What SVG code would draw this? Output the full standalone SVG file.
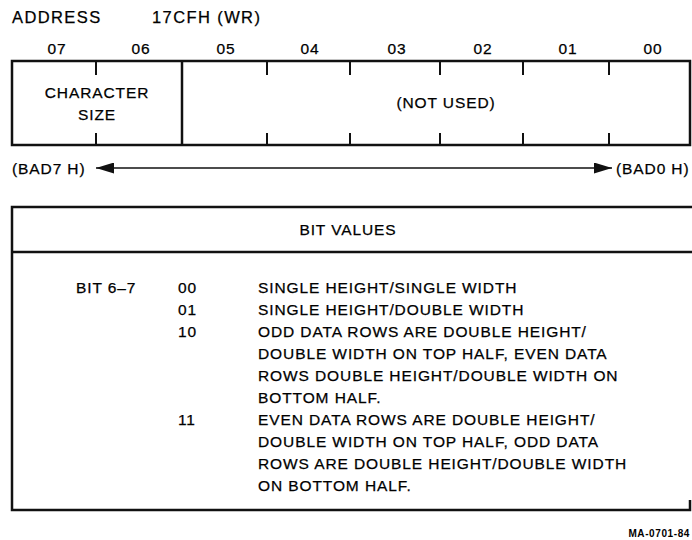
<svg xmlns="http://www.w3.org/2000/svg" width="692" height="540" viewBox="0 0 692 540">
<style>
text{font-family:"Liberation Sans",Arial,sans-serif;font-size:15.5px;letter-spacing:0.9px;fill:#000;stroke:#000;stroke-width:0.25}
.title{font-size:16.5px;letter-spacing:1.4px}
.c{text-anchor:middle}
.box{fill:none;stroke:#111;stroke-width:2.5}
.tick{stroke:#111;stroke-width:2}
.ln{stroke:#111;stroke-width:2.5;fill:none}
.conn{stroke:#111;stroke-width:1.6;fill:none}
.small{font-size:10px;font-weight:bold;letter-spacing:0.6px;text-anchor:end;stroke:none}
</style>
<defs>
<marker id="ah" viewBox="0 0 10 10" refX="10" refY="5" markerWidth="18" markerHeight="11" markerUnits="userSpaceOnUse" orient="auto-start-reverse" preserveAspectRatio="none">
<path d="M0,0 L10,5 L0,10 Z" fill="#111"/>
</marker>
</defs>
<rect width="692" height="540" fill="#fff"/>
<g id="header">
<text class="title" x="12" y="23">ADDRESS</text>
<text class="title" x="152" y="23">17CFH (WR)</text>
</g>
<g id="bit-labels">
<text class="c" x="57" y="54">07</text>
<text class="c" x="141" y="54">06</text>
<text class="c" x="226" y="54">05</text>
<text class="c" x="310" y="54">04</text>
<text class="c" x="397" y="54">03</text>
<text class="c" x="483" y="54">02</text>
<text class="c" x="568" y="54">01</text>
<text class="c" x="653" y="54">00</text>
</g>
<g id="register">
<rect class="box" x="12" y="61" width="678" height="84"/>
<line class="box" x1="182" y1="61" x2="182" y2="145"/>
<g class="tick">
<line x1="96" y1="61" x2="96" y2="75"/><line x1="96" y1="133" x2="96" y2="145"/>
<line x1="267" y1="61" x2="267" y2="75"/><line x1="267" y1="133" x2="267" y2="145"/>
<line x1="350" y1="61" x2="350" y2="75"/><line x1="350" y1="133" x2="350" y2="145"/>
<line x1="440" y1="61" x2="440" y2="75"/><line x1="440" y1="133" x2="440" y2="145"/>
<line x1="523" y1="61" x2="523" y2="75"/><line x1="523" y1="133" x2="523" y2="145"/>
<line x1="609" y1="61" x2="609" y2="75"/><line x1="609" y1="133" x2="609" y2="145"/>
</g>
</g>
<g id="character-size">
<text class="c" x="97" y="98">CHARACTER</text>
<text class="c" x="97" y="120">SIZE</text>
</g>
<g id="not-used">
<text class="c" x="446" y="108">(NOT USED)</text>
</g>
<g id="bad7">
<text x="12" y="174">(BAD7 H)</text>
</g>
<g id="bad0">
<text x="616" y="174">(BAD0 H)</text>
</g>
<g id="connectors">
<line class="conn" x1="96" y1="168" x2="612" y2="168" marker-start="url(#ah)" marker-end="url(#ah)"/>
</g>
<g id="bit-values">
<path class="ln" d="M692,207 H12 V510 H690 V500"/>
<line class="ln" x1="12" y1="252" x2="692" y2="252"/>
<text class="c" x="348" y="235">BIT VALUES</text>
<text x="76" y="293">BIT 6–7</text>
<text x="178" y="293">00</text>
<text x="258" y="293">SINGLE HEIGHT/SINGLE WIDTH</text>
<text x="178" y="315">01</text>
<text x="258" y="315">SINGLE HEIGHT/DOUBLE WIDTH</text>
<text x="178" y="337">10</text>
<text x="258" y="337">ODD DATA ROWS ARE DOUBLE HEIGHT/</text>
<text x="258" y="359">DOUBLE WIDTH ON TOP HALF, EVEN DATA</text>
<text x="258" y="381">ROWS DOUBLE HEIGHT/DOUBLE WIDTH ON</text>
<text x="258" y="403">BOTTOM HALF.</text>
<text x="178" y="425">11</text>
<text x="258" y="425">EVEN DATA ROWS ARE DOUBLE HEIGHT/</text>
<text x="258" y="447">DOUBLE WIDTH ON TOP HALF, ODD DATA</text>
<text x="258" y="469">ROWS ARE DOUBLE HEIGHT/DOUBLE WIDTH</text>
<text x="258" y="491">ON BOTTOM HALF.</text>
</g>
<g id="figure-id">
<text class="small" x="690" y="537">MA-0701-84</text>
</g>
</svg>
